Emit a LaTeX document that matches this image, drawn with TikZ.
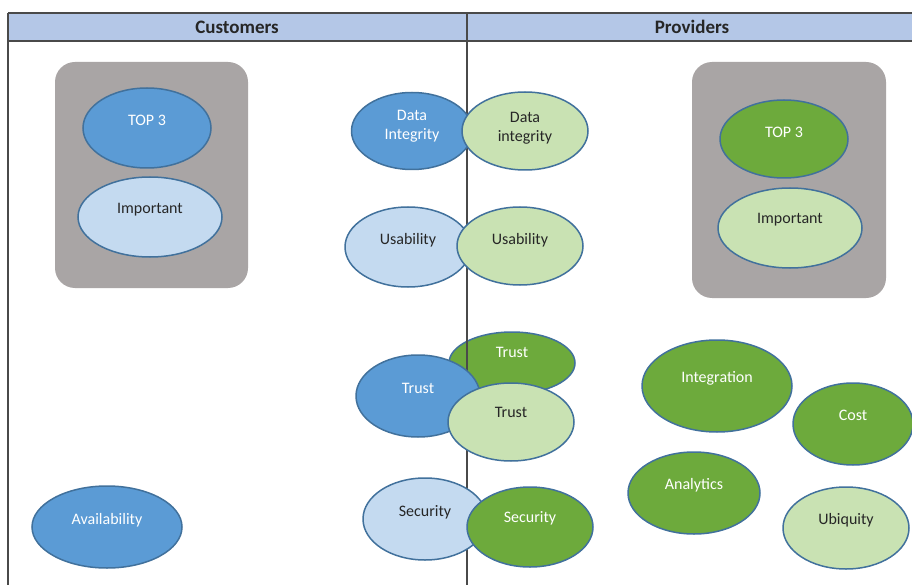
\documentclass[tikz,border=0pt]{standalone}
\usepackage{fontspec}
\setmainfont{Carlito}
\usetikzlibrary{shapes.geometric}
\definecolor{dblue}{HTML}{5B9BD5}
\definecolor{lblue}{HTML}{C4DAF0}
\definecolor{dgreen}{HTML}{6DAA3C}
\definecolor{lgreen}{HTML}{C9E2B3}
\definecolor{edgec}{HTML}{41719C}
\definecolor{boxgray}{HTML}{A9A5A5}
\definecolor{hdr}{HTML}{B4C7E7}
\definecolor{linec}{HTML}{4A4A4A}
\definecolor{txtk}{HTML}{262626}
\tikzset{
  ell/.style={ellipse, draw=edgec, line width=1.5pt, inner sep=0pt},
  db/.style={ell, fill=dblue},
  lb/.style={ell, fill=lblue},
  dg/.style={ell, fill=dgreen},
  lg/.style={ell, fill=lgreen},
  wtxt/.style={text=white, align=center, font=\fontsize{16}{19}\selectfont, inner sep=0pt},
  ktxt/.style={text=txtk, align=center, font=\fontsize{16}{19}\selectfont, inner sep=0pt},
  graybox/.style={fill=boxgray, rounded corners=20pt, draw=none},
  divline/.style={draw=linec, line width=1.1pt},
  hdrtxt/.style={font=\bfseries\fontsize{19}{22}\selectfont, text=txtk}
}
\begin{document}
\begin{tikzpicture}[x=1pt,y=-1pt]
\useasboundingbox (0,0) rectangle (912,585);
\fill[white] (0,0) rectangle (912,585);
% header
\fill[hdr] (8,13) rectangle (912,41);
\draw[divline] (8,13) -- (912,13);
\draw[divline] (8,41) -- (912,41);
\node[hdrtxt] (hc) at (237,27) {Customers};
\node[hdrtxt] (hp) at (692,27) {Providers};
% gray boxes
\path[graybox] (55,62) rectangle (248,288);
\path[graybox] (692,62) rectangle (886,298);
% trust dark green (under the divider)
\node[dg, minimum width=126pt, minimum height=62pt] (trg) at (512,363) {};
\node[wtxt] (trgt) at (512,352) {Trust};
% dividers
\coordinate (lt) at (8,13);
\coordinate (lb) at (8,585);
\coordinate (mt) at (467,13);
\coordinate (mb) at (467,585);
\draw[divline] (lt) -- (lb);
\draw[divline] (mt) -- (mb);
% left box
\node[db, minimum width=128pt, minimum height=80pt] (ct3) at (147,128) {};
\node[wtxt] (ct3t) at (147,120) {TOP 3};
\node[lb, minimum width=144pt, minimum height=80pt] (cim) at (150,217) {};
\node[ktxt] (cimt) at (150,210) {Important};
% right box
\node[dg, minimum width=128pt, minimum height=78pt] (pt3) at (784,139) {};
\node[wtxt] (pt3t) at (784,132) {TOP 3};
\node[lg, minimum width=144pt, minimum height=80pt] (pim) at (790,228) {};
\node[ktxt] (pimt) at (790,220) {Important};
% data integrity
\node[db, minimum width=121pt, minimum height=77pt] (cdi) at (412,131) {};
\node[wtxt] (cdit) at (412,126) {Data\\Integrity};
\node[lg, minimum width=126pt, minimum height=78pt] (pdi) at (525,131) {};
\node[ktxt] (pdit) at (525,128) {Data\\integrity};
% usability
\node[lb, minimum width=126pt, minimum height=80pt] (cus) at (408,247) {};
\node[ktxt] (cust) at (408,240) {Usability};
\node[lg, minimum width=126pt, minimum height=78pt] (pus) at (520,246) {};
\node[ktxt] (pust) at (520,240) {Usability};
% trust
\node[db, minimum width=124pt, minimum height=82pt] (ctr) at (418,396) {};
\node[wtxt] (ctrt) at (418,388) {Trust};
\node[lg, minimum width=126pt, minimum height=78pt] (ptr) at (511,422) {};
\node[ktxt] (ptrt) at (511,412) {Trust};
% security
\node[lb, minimum width=124pt, minimum height=82pt] (cse) at (425,519) {};
\node[ktxt] (cset) at (425,512) {Security};
\node[dg, minimum width=126pt, minimum height=80pt] (pse) at (530,527) {};
\node[wtxt] (pset) at (530,518) {Security};
% availability
\node[db, minimum width=150pt, minimum height=82pt] (cav) at (107,527) {};
\node[wtxt] (cavt) at (107,520) {Availability};
% provider extras
\node[dg, minimum width=150pt, minimum height=92pt] (pin) at (717,386) {};
\node[wtxt] (pint) at (717,378) {Integration};
\node[dg, minimum width=120pt, minimum height=82pt] (pco) at (853,424) {};
\node[wtxt] (pcot) at (853,415) {Cost};
\node[dg, minimum width=132pt, minimum height=82pt] (pan) at (694,493) {};
\node[wtxt] (pant) at (694,485) {Analytics};
\node[lg, minimum width=126pt, minimum height=82pt] (pub) at (846,528) {};
\node[ktxt] (pubt) at (846,520) {Ubiquity};
\end{tikzpicture}
\end{document}
